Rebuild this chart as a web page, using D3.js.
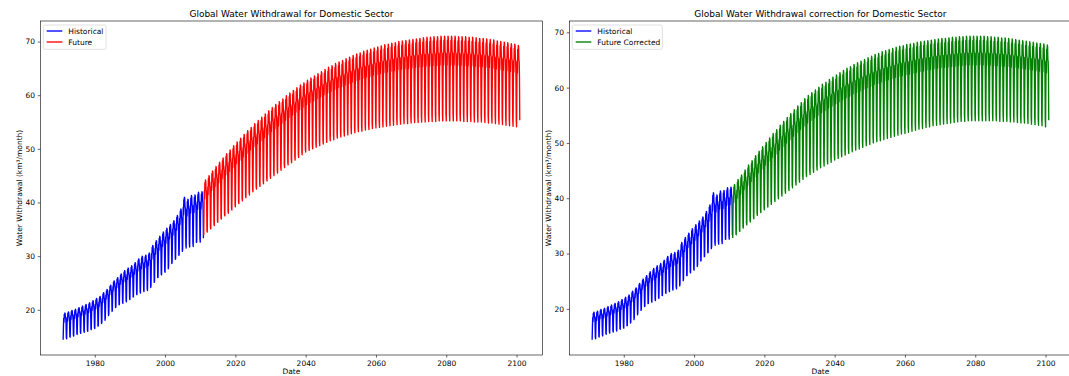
<!DOCTYPE html>
<html>
<head>
<meta charset="utf-8">
<script src="https://cdn.jsdelivr.net/npm/d3@7/dist/d3.min.js"></script>
<style>
  body { margin: 0; background: #fff; }
  svg text { font-family: "DejaVu Sans", sans-serif; fill: #000; }
</style>
</head>
<body>
<svg id="fig" width="1069" height="376"></svg>
<script>
// ---- Data: annual low / high of the monthly withdrawal (km³/month) ----
const histStart = 1971;
const futureStart = 2011;

const histHigh = [19.4, 19.6, 19.9, 20.1, 20.4, 20.7, 21.0, 21.3, 21.7, 22.1,
                  22.5, 23.2, 23.8, 24.6, 25.4, 26.0, 26.7, 27.3, 27.8, 28.2,
                  28.8, 29.5, 30.0, 30.2, 30.6, 32.0, 32.9, 33.7, 34.5, 35.2,
                  35.9, 36.6, 37.6, 38.8, 41.0, 40.6, 41.3, 41.4, 41.9, 42.0];
const histLow  = [14.4, 14.6, 14.9, 15.1, 15.4, 15.6, 15.8, 16.0, 16.3, 16.5,
                  17.0, 17.6, 18.5, 19.3, 20.0, 20.5, 21.0, 21.2, 21.5, 21.9,
                  22.4, 22.8, 23.1, 23.4, 23.6, 24.5, 25.4, 26.0, 26.5, 27.0,
                  28.0, 28.8, 29.5, 30.2, 31.3, 31.5, 31.7, 31.8, 32.6, 32.6];

const futureHigh = [44.2, 45.0, 45.9, 46.7, 47.5, 48.3, 49.1, 49.8, 50.6, 51.3,
                    52.0, 52.7, 53.4, 54.0, 54.7, 55.3, 55.9, 56.5, 57.1, 57.7,
                    58.3, 58.8, 59.3, 59.9, 60.4, 60.9, 61.4, 61.9, 62.3, 62.8,
                    63.2, 63.6, 64.0, 64.4, 64.8, 65.2, 65.5, 65.9, 66.2, 66.5,
                    66.8, 67.1, 67.4, 67.7, 67.9, 68.2, 68.4, 68.6, 68.8, 69.0,
                    69.2, 69.4, 69.5, 69.7, 69.8, 70.0, 70.1, 70.2, 70.3, 70.4,
                    70.5, 70.6, 70.7, 70.8, 70.8, 70.9, 70.9, 71.0, 71.0, 71.0,
                    71.0, 71.0, 70.9, 70.9, 70.9, 70.8, 70.8, 70.7, 70.6, 70.6,
                    70.5, 70.4, 70.3, 70.1, 70.0, 69.9, 69.8, 69.6, 69.5, 69.3];
const futureLow  = [33.9, 34.5, 35.1, 35.7, 36.3, 36.9, 37.5, 38.0, 38.6, 39.2,
                    39.8, 40.3, 40.9, 41.4, 42.0, 42.5, 43.0, 43.5, 44.0, 44.5,
                    45.0, 45.5, 46.0, 46.5, 47.0, 47.4, 47.9, 48.4, 48.9, 49.4,
                    49.7, 50.0, 50.3, 50.6, 50.9, 51.2, 51.5, 51.7, 52.0, 52.2,
                    52.4, 52.6, 52.8, 53.0, 53.2, 53.3, 53.5, 53.6, 53.8, 53.9,
                    54.0, 54.1, 54.2, 54.3, 54.4, 54.5, 54.6, 54.7, 54.7, 54.8,
                    54.9, 54.9, 55.0, 55.0, 55.1, 55.1, 55.1, 55.2, 55.2, 55.2,
                    55.2, 55.2, 55.2, 55.2, 55.1, 55.1, 55.1, 55.0, 55.0, 55.0,
                    54.9, 54.8, 54.8, 54.7, 54.6, 54.5, 54.4, 54.3, 54.2, 54.1];

const correctedHigh = [42.5, 43.4, 44.2, 45.1, 46.0, 46.8, 47.7, 48.5, 49.3, 50.1,
                       50.9, 51.7, 52.4, 53.2, 53.9, 54.6, 55.3, 56.0, 56.7, 57.3,
                       58.0, 58.6, 59.1, 59.6, 60.1, 60.6, 61.0, 61.5, 61.9, 62.3,
                       62.7, 63.1, 63.5, 63.8, 64.2, 64.5, 64.8, 65.1, 65.4, 65.7,
                       66.0, 66.2, 66.5, 66.7, 66.9, 67.1, 67.3, 67.5, 67.6, 67.8,
                       67.9, 68.0, 68.2, 68.3, 68.4, 68.5, 68.6, 68.7, 68.8, 68.9,
                       68.9, 69.0, 69.1, 69.1, 69.2, 69.2, 69.3, 69.3, 69.3, 69.3,
                       69.3, 69.3, 69.2, 69.2, 69.1, 69.1, 69.0, 69.0, 68.9, 68.8,
                       68.7, 68.6, 68.5, 68.4, 68.3, 68.2, 68.1, 68.0, 67.9, 67.7];
const correctedLow  = [32.8, 33.4, 34.0, 34.6, 35.2, 35.7, 36.3, 36.9, 37.4, 37.9,
                       38.4, 38.9, 39.4, 39.9, 40.4, 40.9, 41.4, 41.9, 42.4, 42.9,
                       43.4, 43.9, 44.3, 44.7, 45.1, 45.5, 45.8, 46.2, 46.5, 46.9,
                       47.2, 47.5, 47.8, 48.1, 48.4, 48.7, 48.9, 49.2, 49.5, 49.7,
                       50.0, 50.2, 50.4, 50.6, 50.8, 51.0, 51.2, 51.4, 51.6, 51.7,
                       51.9, 52.1, 52.3, 52.5, 52.6, 52.8, 52.9, 53.1, 53.2, 53.3,
                       53.4, 53.5, 53.6, 53.7, 53.8, 53.9, 53.9, 54.0, 54.0, 54.0,
                       54.0, 54.0, 54.0, 54.0, 54.0, 54.0, 53.9, 53.9, 53.9, 53.8,
                       53.8, 53.7, 53.6, 53.6, 53.5, 53.4, 53.3, 53.2, 53.1, 52.9];

// Position of each calendar month between the annual low (0) and high (1)
const seasonalShape = [0.00, 0.47, 0.80, 0.66, 0.95, 0.90, 1.00, 0.98, 0.82, 0.80, 0.62, 0.08];

const xTickYears = [1980, 2000, 2020, 2040, 2060, 2080, 2100];
const yTicks = [20, 30, 40, 50, 60, 70];

// Expand annual low/high pairs into a monthly series
function monthly(startYear, lows, highs) {
  const out = [];
  lows.forEach((lo, i) => {
    const hi = highs[i];
    seasonalShape.forEach((s, m) => {
      out.push({ date: new Date(startYear + i, m, 1), value: lo + s * (hi - lo) });
    });
  });
  return out;
}

const historical = monthly(histStart, histLow, histHigh);
const future = monthly(futureStart, futureLow, futureHigh);
const corrected = monthly(futureStart, correctedLow, correctedHigh);

const panels = [
  { left: 40.3, title: "Global Water Withdrawal for Domestic Sector",
    series: [{ data: historical, color: "#0000ff", label: "Historical" },
             { data: future, color: "#ff0000", label: "Future" }],
    legendWidth: 62.7 },
  { left: 569.3, title: "Global Water Withdrawal correction for Domestic Sector",
    series: [{ data: historical, color: "#0000ff", label: "Historical" },
             { data: corrected, color: "#008000", label: "Future Corrected" }],
    legendWidth: 90 }
];

const svg = d3.select("#fig");
const plotW = 502.3, plotTop = 21, plotBottom = 355;
const tickLen = 2.6, tickPad = 2.6;

panels.forEach(p => {
  const all = p.series.flatMap(s => s.data);
  const [d0, d1] = d3.extent(all, d => d.date);
  const padT = (d1 - d0) * 0.05;
  const x = d3.scaleTime()
    .domain([new Date(+d0 - padT), new Date(+d1 + padT)])
    .range([p.left, p.left + plotW]);
  const [v0, v1] = d3.extent(all, d => d.value);
  const padV = (v1 - v0) * 0.05;
  const y = d3.scaleLinear().domain([v0 - padV, v1 + padV]).range([plotBottom, plotTop]);

  const g = svg.append("g");

  const clipId = "clip" + Math.round(p.left);
  svg.append("clipPath").attr("id", clipId)
    .append("rect").attr("x", p.left).attr("y", plotTop)
    .attr("width", plotW).attr("height", plotBottom - plotTop);

  const line = d3.line().x(d => x(d.date)).y(d => y(d.value));
  const lines = g.append("g").attr("clip-path", `url(#${clipId})`);
  p.series.forEach(s => {
    lines.append("path").datum(s.data)
      .attr("d", line)
      .attr("fill", "none")
      .attr("stroke", s.color)
      .attr("stroke-width", 1.35)
      .attr("stroke-linejoin", "round");
  });

  // axes
  const xAxis = d3.axisBottom(x)
    .tickValues(xTickYears.map(yr => new Date(yr, 0, 1)))
    .tickFormat(d3.timeFormat("%Y"))
    .tickSizeInner(tickLen).tickSizeOuter(0).tickPadding(tickPad);
  const gx = g.append("g").attr("transform", `translate(0,${plotBottom})`).call(xAxis);
  const yAxis = d3.axisLeft(y).tickValues(yTicks)
    .tickSizeInner(tickLen).tickSizeOuter(0).tickPadding(tickPad);
  const gy = g.append("g").attr("transform", `translate(${p.left},0)`).call(yAxis);
  [gx, gy].forEach(a => {
    a.select(".domain").remove();
    a.selectAll(".tick line").attr("stroke", "#000").attr("stroke-width", 0.6);
    a.selectAll(".tick text").attr("font-size", 7.5).attr("fill", "#000")
      .style("font-family", '"DejaVu Sans", sans-serif');
  });

  // frame
  g.append("rect")
    .attr("x", p.left).attr("y", plotTop)
    .attr("width", plotW).attr("height", plotBottom - plotTop)
    .attr("fill", "none").attr("stroke", "#000").attr("stroke-width", 0.6);

  // title and axis labels
  g.append("text")
    .attr("x", p.left + plotW / 2).attr("y", 16.5)
    .attr("text-anchor", "middle").attr("font-size", 9)
    .text(p.title);
  g.append("text")
    .attr("x", p.left + plotW / 2).attr("y", 368.3)
    .attr("text-anchor", "middle").attr("dominant-baseline", "hanging")
    .attr("font-size", 7.5)
    .text("Date");
  g.append("text")
    .attr("transform", `translate(${p.left - 18.8},${(plotTop + plotBottom) / 2}) rotate(-90)`)
    .attr("text-anchor", "middle").attr("font-size", 7.5)
    .text("Water Withdrawal (km³/month)");

  // legend
  const lg = g.append("g").attr("transform", `translate(${p.left + 3},25)`);
  lg.append("rect")
    .attr("width", p.legendWidth).attr("height", 24.3)
    .attr("rx", 1.5).attr("ry", 1.5)
    .attr("fill", "#fff").attr("fill-opacity", 0.8)
    .attr("stroke", "#cccccc").attr("stroke-width", 0.6);
  p.series.forEach((s, i) => {
    const yy = 6 + i * 11;
    lg.append("line")
      .attr("x1", 3.4).attr("x2", 19)
      .attr("y1", yy).attr("y2", yy)
      .attr("stroke", s.color).attr("stroke-width", 1.35);
    lg.append("text")
      .attr("x", 25).attr("y", yy + 2.7)
      .attr("font-size", 7.5)
      .text(s.label);
  });
});
</script>
</body>
</html>
